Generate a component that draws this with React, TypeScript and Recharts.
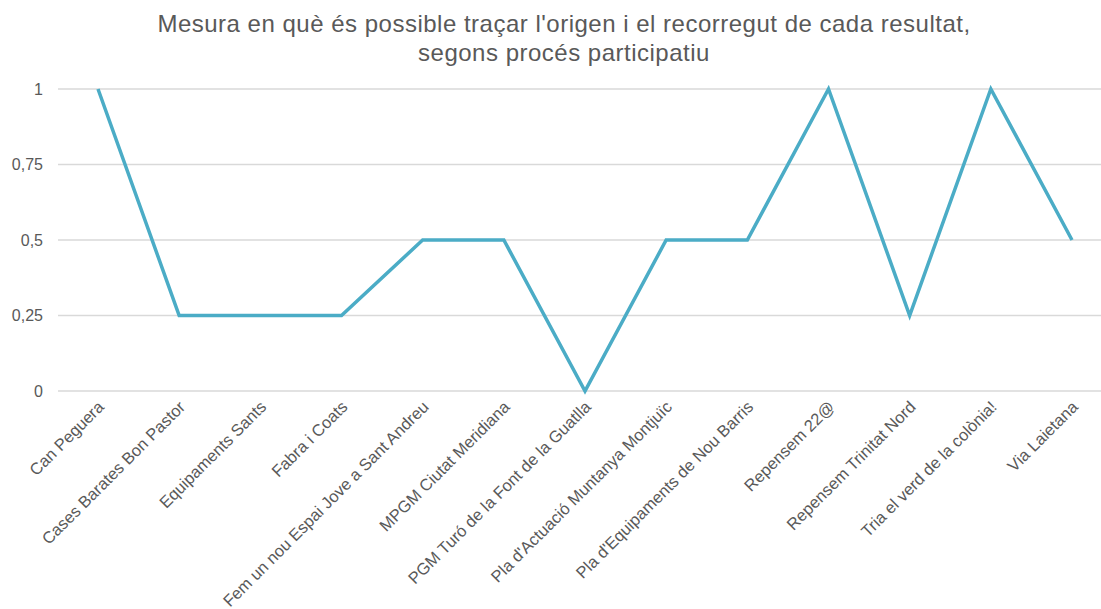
import { LineChart, Line, XAxis, YAxis, CartesianGrid } from "recharts";

const processes = [
  "Can Peguera",
  "Cases Barates Bon Pastor",
  "Equipaments Sants",
  "Fabra i Coats",
  "Fem un nou Espai Jove a Sant Andreu",
  "MPGM Ciutat Meridiana",
  "PGM Turó de la Font de la Guatlla",
  "Pla d'Actuació Muntanya Montjuïc",
  "Pla d'Equipaments de Nou Barris",
  "Repensem 22@",
  "Repensem Trinitat Nord",
  "Tria el verd de la colònia!",
  "Via Laietana",
];

const traceability = [1, 0.25, 0.25, 0.25, 0.5, 0.5, 0, 0.5, 0.5, 1, 0.25, 1, 0.5];

const yTicks = [0, 0.25, 0.5, 0.75, 1];

const data = processes.map((name, i) => ({ name, value: traceability[i] }));

const FONT = "'Liberation Sans', Arial, sans-serif";
const TEXT = "#595959";

function RotatedTick(props: any) {
  const { x, y, payload } = props;
  const ax = x + 7;
  const ay = y + 9;
  return (
    <text
      x={ax}
      y={ay}
      textAnchor="end"
      fill={TEXT}
      fontSize={16.5}
      fontFamily={FONT}
      transform={`rotate(-45, ${ax}, ${ay})`}
    >
      {payload.value}
    </text>
  );
}

export default function App() {
  return (
    <div
      style={{
        position: "fixed",
        left: 0,
        top: 0,
        width: 1101,
        height: 609,
        overflow: "hidden",
        background: "#fff",
        fontFamily: FONT,
      }}
    >
      <div
        style={{
          position: "absolute",
          left: 0,
          top: 9,
          width: 1128,
          textAlign: "center",
          color: TEXT,
          fontSize: 24,
          letterSpacing: 0.5,
          lineHeight: "29px",
        }}
      >
        Mesura en què és possible traçar l'origen i el recorregut de cada resultat,
        <br />
        segons procés participatiu
      </div>
      <LineChart
        width={1112}
        height={609}
        data={data}
        margin={{ top: 89, right: 0, bottom: 18, left: 8 }}
      >
        <CartesianGrid vertical={false} stroke="#D9D9D9" strokeWidth={1.3} />
        <XAxis
          dataKey="name"
          axisLine={false}
          tickLine={false}
          interval={0}
          height={200}
          padding={{ left: 40, right: 40 }}
          tick={<RotatedTick />}
        />
        <YAxis
          width={50}
          domain={[0, 1]}
          ticks={yTicks}
          axisLine={false}
          tickLine={false}
          tickMargin={9}
          tick={{ fill: TEXT, fontSize: 16, fontFamily: FONT }}
          tickFormatter={(v: number) => String(v).replace(".", ",")}
        />
        <Line
          type="linear"
          dataKey="value"
          stroke="#4BACC6"
          strokeWidth={3.5}
          dot={false}
          isAnimationActive={false}
        />
      </LineChart>
    </div>
  );
}
